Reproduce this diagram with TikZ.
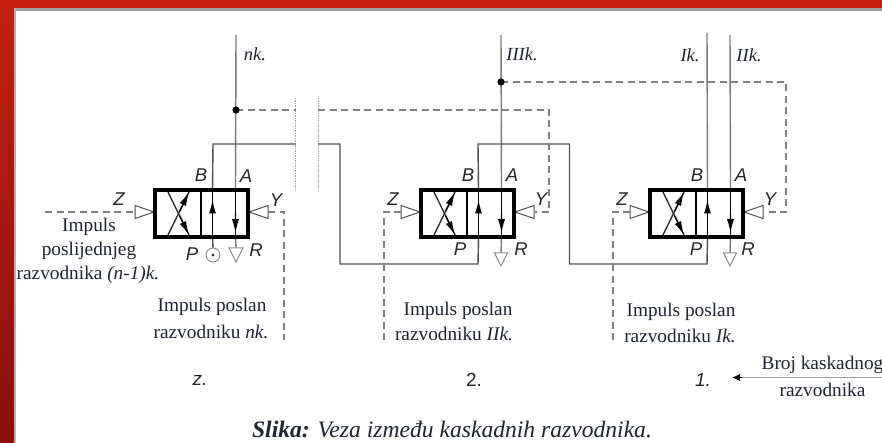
\documentclass[tikz,border=0pt]{standalone}
\usepackage{fontspec}
\setmainfont{Liberation Serif}
\newfontfamily\lblfont{Liberation Sans}
\usetikzlibrary{arrows.meta,calc}
\definecolor{framered}{HTML}{C62015}
\definecolor{framedark}{HTML}{8A0F0A}
\definecolor{thinline}{HTML}{505050}
\definecolor{pipegray}{HTML}{7A7A7A}
\definecolor{dashgray}{HTML}{808080}
\definecolor{inkblue}{HTML}{1E2430}
\tikzset{
  valvebody/.style={draw=black,line width=3.2pt,minimum width=93pt,minimum height=47pt,inner sep=0pt,outer sep=0pt},
  vdiv/.style={draw=black,line width=2pt},
  xline/.style={draw=black!85,line width=1.3pt},
  pipe/.style={draw=thinline,line width=1.4pt},
  innerpipe/.style={draw=black,line width=1.5pt},
  lightpipe/.style={draw=pipegray,line width=1.4pt},
  sig/.style={draw=dashgray,line width=1.2pt,dash pattern=on 7pt off 4.5pt},
  brk/.style={draw=gray!70,line width=.9pt,dash pattern=on 1.5pt off 1pt},
  pilot/.style={draw=thinline,fill=white,line width=1pt},
  tank/.style={draw=gray!90,fill=white,line width=1pt},
  port/.style={font=\lblfont\itshape\fontsize{18.5}{20}\selectfont,text=black!85,inner sep=0pt},
  lbl/.style={font=\fontsize{19.3}{22}\selectfont,text=inkblue,inner sep=0pt},
  line lbl/.style={font=\itshape\fontsize{18.5}{21}\selectfont,text=inkblue,inner sep=0pt},
  num/.style={font=\lblfont\fontsize{19}{21}\selectfont,text=black!85,inner sep=0pt},
  head/.style={-{Latex[length=14pt,width=7pt]},draw=black,line width=1.4pt},
}
% #1 name, #2 left edge x
\newcommand{\myvalve}[2]{%
  \node[valvebody] (#1) at ({#2+46.5},213.5) {};
  \coordinate (#1div) at ({#2+46},190);
  \coordinate (#1divb) at ({#2+46},237);
  \coordinate (#1B) at ({#2+57.5},190);
  \coordinate (#1Bb) at ({#2+57.5},237);
  \coordinate (#1A) at ({#2+80.5},190);
  \coordinate (#1Ab) at ({#2+80.5},237);
  \coordinate (#1xa) at ({#2+12},190);
  \coordinate (#1xb) at ({#2+35},190);
  \coordinate (#1xc) at ({#2+12},237);
  \coordinate (#1xd) at ({#2+35},237);
  \coordinate (#1zt) at ({#2-1},212);
  \coordinate (#1zb) at ({#2-20},212);
  \coordinate (#1yt) at ({#2+94},212);
  \coordinate (#1yb) at ({#2+113},212);
  \draw[xline] (#1xa) -- (#1xd);
  \draw[xline] (#1xc) -- (#1xb);
  \draw[vdiv] (#1div) -- (#1divb);
  \draw[pilot] (#1zt) -- ++(-19,-6.5) -- ++(0,13) -- cycle;
  \draw[pilot] (#1yt) -- ++(19,-6.5) -- ++(0,13) -- cycle;
}
\newcommand{\myheads}[1]{%
  \draw[head] ($(#1xc)!.55!(#1xb)$) -- ($(#1xc)!.96!(#1xb)$);
  \draw[head] ($(#1xa)!.55!(#1xd)$) -- ($(#1xa)!.96!(#1xd)$);
  \draw[head] ($(#1Bb)!.5!(#1B)$) -- ($(#1Bb)!.8!(#1B)$);
  \draw[head] ($(#1A)!.5!(#1Ab)$) -- ($(#1A)!.92!(#1Ab)$);
}
\begin{document}
\begin{tikzpicture}[x=1pt,y=-1pt]
\useasboundingbox (0,0) rectangle (882,443);
% slide frame
\fill[white] (0,0) rectangle (882,443);
\shade[top color=framered,bottom color=framedark,draw=none] (0,0) rectangle (15,443);
\fill[framered] (0,0) rectangle (882,8);
\fill[gray!75] (14,8) rectangle (882,11);
\fill[gray!60] (14,8) rectangle (15.5,443);

% pipe anchors
\coordinate (nktop) at (236,35);
\coordinate (dotn) at (236,110);
\coordinate (iiitop) at (501,35);
\coordinate (dotiii) at (501,82);
\coordinate (itop) at (707,33);
\coordinate (iitop) at (730,35);

\coordinate (w1) at (213,144);
\coordinate (w2) at (296,144);
\coordinate (w3) at (318,144);
\coordinate (w4) at (340,144);
\coordinate (w5) at (340,264);
\coordinate (w6) at (478,264);
\coordinate (w7) at (478,144);
\coordinate (w8) at (569.5,144);
\coordinate (w9) at (569.5,264);
\coordinate (w10) at (707,264);

\coordinate (s1) at (296,110);
\coordinate (s2) at (318,110);
\coordinate (s3) at (549,110);
\coordinate (s4) at (549,212);
\coordinate (s5) at (786,82);
\coordinate (s6) at (786,212);
\coordinate (zin) at (45,212);
\coordinate (y1a) at (284,212);
\coordinate (y1b) at (284,340);
\coordinate (z2a) at (384,212);
\coordinate (z2b) at (384,340);
\coordinate (z3a) at (613,212);
\coordinate (z3b) at (613,340);

% break marks
\coordinate (b1t) at (295,98);
\coordinate (b1b) at (295,191);
\coordinate (b2t) at (318,98);
\coordinate (b2b) at (318,191);
\draw[brk] (b1t) -- (b1b);
\draw[brk] (b2t) -- (b2b);

% valves
\myvalve{a}{155}
\myvalve{b}{421}
\myvalve{c}{650}

% solid pipes
\draw[lightpipe] (nktop) -- (aA);
\draw[lightpipe] (aAb) -- (236,248);
\draw[lightpipe] (iiitop) -- (bA);
\draw[lightpipe] (bAb) -- (501,253);
\draw[lightpipe] (itop) -- (cB);
\draw[lightpipe] (iitop) -- (cA);
\draw[lightpipe] (cAb) -- (730,253);
\draw[pipe] (aB) -- (w1) -- (w2);
\draw[pipe] (w3) -- (w4) -- (w5) -- (w6) -- (bBb);
\draw[pipe] (bB) -- (w7) -- (w8) -- (w9) -- (w10) -- (cBb);
\draw[pipe] (aBb) -- (213,248);
\draw[innerpipe] (aB) -- (aBb);
\draw[innerpipe] (aA) -- (aAb);
\draw[innerpipe] (bB) -- (bBb);
\draw[innerpipe] (bA) -- (bAb);
\draw[innerpipe] (cB) -- (cBb);
\draw[innerpipe] (cA) -- (cAb);

% signal lines
\draw[sig] (dotn) -- (s1);
\draw[sig] (s2) -- (s3) -- (s4) -- (byb);
\draw[sig] (dotiii) -- (s5) -- (s6) -- (cyb);
\draw[sig] (zin) -- (azb);
\draw[sig] (ayb) -- (y1a) -- (y1b);
\draw[sig] (bzb) -- (z2a) -- (z2b);
\draw[sig] (czb) -- (z3a) -- (z3b);

\fill[black] (dotn) circle (3.6pt);
\fill[black] (dotiii) circle (3.6pt);

% valve body outlines on top
\node[valvebody] (af) at (a) {};
\node[valvebody] (bf) at (b) {};
\node[valvebody] (cf) at (c) {};
\myheads{a}\myheads{b}\myheads{c}

% supply and tanks
\node[draw=gray!90,fill=white,circle,line width=.9pt,minimum size=14pt,inner sep=0pt] (psup) at (213,255) {};
\fill[black!80] (psup.center) circle (1.6pt);
\draw[tank] (229,248) -- (243,248) -- (236,262) -- cycle;
\draw[tank] (494.5,253) -- (507.5,253) -- (501,266) -- cycle;
\draw[tank] (723.5,253) -- (736.5,253) -- (730,266) -- cycle;

% line labels
\node[line lbl] (t1) at (255,54) {nk.};
\node[line lbl] (t2) at (522,54) {IIIk.};
\node[line lbl] (t3) at (690,55) {Ik.};
\node[line lbl] (t4) at (749,55) {IIk.};

% port labels
\node[port] (pa1) at (201,175) {B};
\node[port] (pa2) at (246,176) {A};
\node[port] (pa3) at (119,199) {Z};
\node[port] (pa4) at (276,200) {Y};
\node[port] (pa5) at (192,254) {P};
\node[port] (pa6) at (256,250) {R};
\node[port] (pb1) at (468,175) {B};
\node[port] (pb2) at (512,175) {A};
\node[port] (pb3) at (393,199) {Z};
\node[port] (pb4) at (541,199) {Y};
\node[port] (pb5) at (460,249) {P};
\node[port] (pb6) at (521,249) {R};
\node[port] (pc1) at (697,175) {B};
\node[port] (pc2) at (741,175) {A};
\node[port] (pc3) at (622,199) {Z};
\node[port] (pc4) at (770,199) {Y};
\node[port] (pc5) at (696,249) {P};
\node[port] (pc6) at (748,249) {R};

% descriptions
\node[lbl] (d1) at (89,227) {Impuls};
\node[lbl] (d2) at (89,251) {poslijednjeg};
\node[lbl] (d3) at (88,275) {razvodnika \textit{(n-1)k.}};
\node[lbl] (d4) at (212,307) {Impuls poslan};
\node[lbl] (d5) at (211,332) {razvodniku \textit{nk.}};
\node[lbl] (d6) at (458,311) {Impuls poslan};
\node[lbl] (d7) at (454,334) {razvodniku \textit{IIk.}};
\node[lbl] (d8) at (681,312) {Impuls poslan};
\node[lbl] (d9) at (680,336) {razvodniku \textit{Ik.}};

% numbering
\node[num] (n1) at (200,380) {\itshape z.};
\node[num] (n2) at (474,380) {2.};
\node[num] (n3) at (703,380) {\itshape 1.};
\coordinate (arrend) at (882,377.5);
\coordinate (arrtip) at (732,377.5);
\draw[draw=gray!80,line width=1.6pt] (arrend) -- (739,377.5);
\draw[-{Latex[length=8pt,width=7pt]},black,line width=.8pt] (742,377.5) -- (arrtip);
\node[lbl] (br1) at (822.5,365) {Broj kaskadnog};
\node[lbl] (br2) at (822.5,390) {razvodnika};

% caption
\node[font=\fontsize{23.6}{26}\selectfont,text=inkblue,inner sep=0pt] (cap) at (452,429) {\textbf{\textit{Slika:}} \textit{Veza između kaskadnih razvodnika.}};
\end{tikzpicture}
\end{document}
